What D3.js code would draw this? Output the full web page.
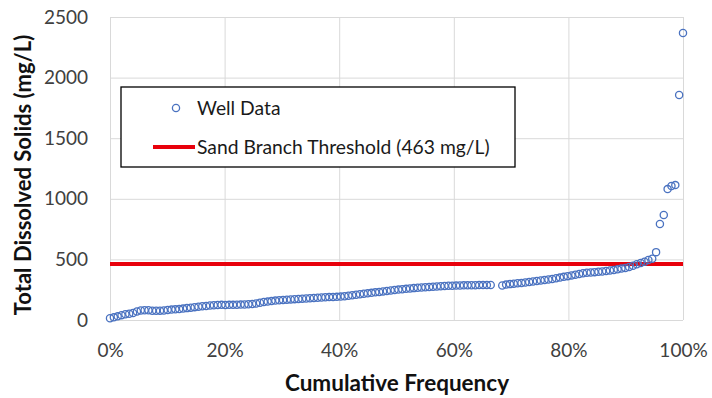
<!DOCTYPE html>
<html><head><meta charset="utf-8">
<script src="https://cdn.jsdelivr.net/npm/d3@7"></script>
<style>
html,body{margin:0;padding:0;background:#fff;}
svg{display:block;font-family:Lato,"Open Sans",sans-serif;}
</style></head>
<body><svg id="chart" width="712" height="398"></svg>
<script>
// Total dissolved solids (mg/L), sorted; null = gap in the record
const tdsValues = [
  15,22,30,40,48,52,58,70,78,80,
  80,76,76,77,78,82,86,88,90,94,
  98,102,106,110,114,116,120,122,124,125,
  124,125,125,126,127,128,130,132,136,142,
  148,152,156,160,163,166,168,170,172,174,
  176,178,180,182,184,186,188,189,190,191,
  193,196,200,204,208,212,216,220,224,228,
  232,236,240,244,248,251,254,257,260,263,
  266,268,270,272,274,276,278,280,282,283,
  284,285,286,286,287,287,288,288,288,289,
  null,null,285,292,296,300,303,306,310,314,
  318,322,326,330,334,338,344,350,356,362,
  368,374,380,386,390,392,395,398,400,404,
  408,412,418,424,430,438,448,460,470,480,
  495,505,560,792,866,1080,1105,1113,1856,2368
];
const threshold = 463;
const yTicks = [0,500,1000,1500,2000,2500];
const xTicks = [0,0.2,0.4,0.6,0.8,1.0];
const seriesLabels = ["Well Data","Sand Branch Threshold (463 mg/L)"];
const xTitle = "Cumulative Frequency";
const yTitle = "Total Dissolved Solids (mg/L)";

const svg = d3.select("#chart");
const L = 110, R = 683, T = 17, B = 320;
const x = d3.scaleLinear().domain([0,1]).range([L,R]);
const y = d3.scaleLinear().domain([0,2500]).range([B,T]);
const n = tdsValues.length;
const pts = tdsValues.map((v,i)=>({f:i/(n-1), v})).filter(d=>d.v!==null);

// gridlines
svg.append("g").attr("transform",`translate(0,${B})`)
  .call(d3.axisBottom(x).tickValues(xTicks).tickSize(-(B-T)).tickFormat(""))
  .call(g=>g.select(".domain").remove())
  .call(g=>g.selectAll("line").attr("stroke","#d9d9d9").attr("stroke-width",1));
svg.append("g").attr("transform",`translate(${L},0)`)
  .call(d3.axisLeft(y).tickValues(yTicks).tickSize(-(R-L)).tickFormat(""))
  .call(g=>g.select(".domain").remove())
  .call(g=>g.selectAll("line").attr("stroke","#d9d9d9").attr("stroke-width",1));

// tick labels
svg.append("g").attr("transform",`translate(0,${B})`)
  .call(d3.axisBottom(x).tickValues(xTicks).tickSize(0).tickPadding(24).tickFormat(d3.format(".0%")))
  .call(g=>g.select(".domain").remove())
  .call(g=>g.selectAll("text").attr("font-size",19).attr("fill","#404040").attr("font-family","Lato"));
svg.append("g").attr("transform",`translate(${L},0)`)
  .call(d3.axisLeft(y).tickValues(yTicks).tickSize(0).tickPadding(22).tickFormat(d3.format("d")))
  .call(g=>g.select(".domain").remove())
  .call(g=>g.selectAll("text").attr("font-size",19).attr("fill","#404040").attr("font-family","Lato"));

// threshold line
svg.append("line")
  .attr("x1",x(0)).attr("x2",x(1)).attr("y1",y(threshold)).attr("y2",y(threshold))
  .attr("stroke","#e8000b").attr("stroke-width",4);

// points
svg.append("g").selectAll("circle").data(pts).join("circle")
  .attr("cx",d=>x(d.f)).attr("cy",d=>y(d.v)).attr("r",3.6)
  .attr("fill","none").attr("stroke","#4a72c0").attr("stroke-width",1.3);

// axis titles
svg.append("text").attr("x",397).attr("y",391).attr("text-anchor","middle")
  .attr("font-size",22.5).attr("font-weight","bold").attr("fill","#111").text(xTitle);
svg.append("text").attr("transform","translate(31,175) rotate(-90)").attr("text-anchor","middle")
  .attr("font-size",22).attr("font-weight","bold").attr("fill","#111").text(yTitle);

// legend
const lg = svg.append("g");
lg.append("rect").attr("x",121).attr("y",87).attr("width",394).attr("height",80)
  .attr("fill","#fff").attr("stroke","#000").attr("stroke-width",1.3);
lg.append("circle").attr("cx",176).attr("cy",108).attr("r",3.6)
  .attr("fill","none").attr("stroke","#4a72c0").attr("stroke-width",1.3);
lg.append("text").attr("x",197).attr("y",114.5).attr("font-size",19.3).attr("fill","#1a1a1a").text(seriesLabels[0]);
lg.append("line").attr("x1",153).attr("x2",195).attr("y1",147).attr("y2",147)
  .attr("stroke","#e8000b").attr("stroke-width",4);
lg.append("text").attr("x",197).attr("y",153.5).attr("font-size",19.3).attr("fill","#1a1a1a").text(seriesLabels[1]);
</script></body></html>
